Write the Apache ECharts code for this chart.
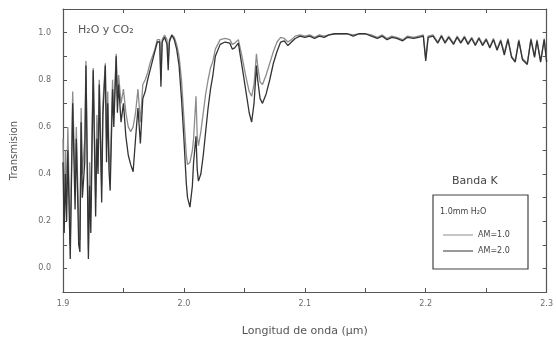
<!DOCTYPE html>
<html>
<head>
<meta charset="utf-8">
<script src="https://cdn.jsdelivr.net/npm/echarts@6/dist/echarts.min.js"></script>
<style>
  html, body { margin: 0; padding: 0; background: #fff; }
  #chart { width: 556px; height: 343px; }
</style>
</head>
<body>
<div id="chart"></div>
<script>
// longitud de onda (um)
var wavelength = [
  1.900, 1.901, 1.902, 1.903, 1.904, 1.906, 1.908, 1.910, 1.911, 1.913,
  1.914, 1.915, 1.916, 1.918, 1.919, 1.921, 1.922, 1.923, 1.924, 1.925,
  1.927, 1.928, 1.929, 1.930, 1.932, 1.933, 1.935, 1.936, 1.937, 1.938,
  1.939, 1.941, 1.942, 1.944, 1.945, 1.946,
  1.948, 1.950, 1.952, 1.954, 1.956, 1.958, 1.960, 1.962, 1.964, 1.966,
  1.968, 1.970, 1.972, 1.974, 1.976, 1.978, 1.980, 1.981, 1.982, 1.984,
  1.986, 1.987, 1.988, 1.990, 1.992, 1.994, 1.996, 1.998, 2.000, 2.002,
  2.003, 2.005, 2.007, 2.008, 2.010, 2.011, 2.012, 2.014, 2.016, 2.018,
  2.020, 2.022, 2.024, 2.026, 2.030, 2.034, 2.038, 2.040, 2.042, 2.045,
  2.048, 2.051, 2.054, 2.056, 2.058, 2.060, 2.061, 2.063, 2.065, 2.068,
  2.071, 2.074, 2.077, 2.080, 2.083, 2.086, 2.089, 2.092, 2.096, 2.100,
  2.104, 2.108, 2.112, 2.116, 2.120, 2.125, 2.130, 2.135, 2.140, 2.145,
  2.150, 2.155, 2.160, 2.164, 2.168, 2.172, 2.176, 2.181, 2.185, 2.190,
  2.194, 2.198, 2.200, 2.202, 2.206, 2.210, 2.213, 2.216, 2.219, 2.223,
  2.226, 2.229, 2.232, 2.235, 2.238, 2.241, 2.244, 2.247, 2.250, 2.253,
  2.256, 2.259, 2.262, 2.265, 2.268, 2.271, 2.274, 2.277, 2.280, 2.284,
  2.287, 2.290, 2.292, 2.295, 2.298, 2.300
];
// AM=1.0
var am1 = [
  0.55, 0.25, 0.50, 0.30, 0.60, 0.10, 0.75, 0.35, 0.60, 0.20,
  0.12, 0.68, 0.40, 0.55, 0.88, 0.08, 0.45, 0.25, 0.60, 0.85,
  0.30, 0.65, 0.50, 0.80, 0.35, 0.70, 0.87, 0.55, 0.75, 0.50,
  0.40, 0.80, 0.65, 0.91, 0.72, 0.82,
  0.70, 0.76, 0.66, 0.60, 0.58, 0.60, 0.66, 0.76, 0.62, 0.78,
  0.80, 0.83, 0.87, 0.90, 0.93, 0.97, 0.97, 0.80, 0.97, 0.99,
  0.97, 0.88, 0.97, 0.99, 0.98, 0.95, 0.90, 0.80, 0.64, 0.48,
  0.44, 0.45, 0.50, 0.55, 0.73, 0.56, 0.52, 0.58, 0.66, 0.74,
  0.80, 0.85, 0.88, 0.93, 0.97, 0.975, 0.97, 0.95, 0.955, 0.97,
  0.90, 0.82, 0.75, 0.73, 0.78, 0.91, 0.86, 0.79, 0.78, 0.82,
  0.87, 0.92, 0.96, 0.98, 0.975, 0.96, 0.97, 0.985, 0.99, 0.985,
  0.99, 0.98, 0.99, 0.985, 0.99, 0.995, 0.995, 0.995, 0.99, 0.995,
  0.995, 0.99, 0.98, 0.99, 0.975, 0.985, 0.98, 0.97, 0.985, 0.98,
  0.985, 0.99, 0.89, 0.985, 0.99, 0.96, 0.99, 0.96, 0.985, 0.955,
  0.985, 0.96, 0.985, 0.955, 0.98, 0.95, 0.98, 0.95, 0.975, 0.94,
  0.975, 0.93, 0.97, 0.915, 0.975, 0.90, 0.88, 0.97, 0.89, 0.87,
  0.975, 0.90, 0.97, 0.88, 0.975, 0.88
];
// AM=2.0
var am2 = [
  0.45, 0.15, 0.40, 0.20, 0.50, 0.04, 0.70, 0.25, 0.55, 0.10,
  0.07, 0.62, 0.30, 0.45, 0.86, 0.04, 0.35, 0.15, 0.50, 0.84,
  0.22, 0.55, 0.40, 0.78, 0.28, 0.65, 0.86, 0.45, 0.70, 0.42,
  0.33, 0.76, 0.60, 0.90, 0.66, 0.78,
  0.62, 0.70, 0.56, 0.48, 0.44, 0.41, 0.55, 0.68, 0.53, 0.72,
  0.75, 0.80, 0.84, 0.88, 0.92, 0.96, 0.96, 0.77, 0.96, 0.98,
  0.95, 0.84, 0.96, 0.99, 0.97, 0.93, 0.86, 0.72, 0.55, 0.36,
  0.30, 0.26, 0.35, 0.45, 0.56, 0.42, 0.37, 0.40, 0.48, 0.58,
  0.68, 0.76, 0.82, 0.90, 0.95, 0.96, 0.955, 0.93, 0.935, 0.955,
  0.86, 0.76, 0.66, 0.62, 0.70, 0.86, 0.80, 0.72, 0.70, 0.74,
  0.80, 0.87, 0.92, 0.96, 0.965, 0.945, 0.96, 0.975, 0.985, 0.98,
  0.985, 0.975, 0.985, 0.98, 0.99, 0.995, 0.995, 0.995, 0.985, 0.995,
  0.995, 0.985, 0.975, 0.985, 0.97, 0.98, 0.975, 0.965, 0.98, 0.975,
  0.98, 0.985, 0.88, 0.98, 0.985, 0.955, 0.985, 0.955, 0.98, 0.95,
  0.98, 0.955, 0.98, 0.95, 0.975, 0.945, 0.975, 0.945, 0.97, 0.935,
  0.97, 0.925, 0.965, 0.905, 0.97, 0.895, 0.875, 0.965, 0.885, 0.865,
  0.97, 0.895, 0.965, 0.875, 0.97, 0.875
];
var xLabels = [1.9, 2.0, 2.1, 2.2, 2.3];
var xTicks = [1.9, 1.95, 2.0, 2.05, 2.1, 2.15, 2.2, 2.25, 2.3];
var yLabels = [0, 0.2, 0.4, 0.6, 0.8, 1.0];
var yTicks = [-0.1, 0, 0.1, 0.2, 0.3, 0.4, 0.5, 0.6, 0.7, 0.8, 0.9, 1.0, 1.1];

var font = 'DejaVu Sans';
var grey = '#6a6a6a';

function pairs(ys) {
  return wavelength.map(function (x, i) { return [x, ys[i]]; });
}

var myChart = echarts.init(document.getElementById('chart'));

// ejes con marcas hacia dentro en los cuatro lados
function xAxis(pos, withLabels) {
  return {
    type: 'value', position: pos, min: 1.9, max: 2.3,
    axisLine: { show: true, onZero: false, lineStyle: { color: '#555', width: 1.2 } },
    axisTick: { inside: true, length: 4, customValues: xTicks, lineStyle: { color: '#555' } },
    axisLabel: {
      show: withLabels, customValues: xLabels, color: grey, fontSize: 8, fontFamily: font,
      margin: 8, formatter: function (v) { return v.toFixed(1); }
    },
    splitLine: { show: false },
    name: withLabels ? 'Longitud de onda (\u00b5m)' : '',
    nameLocation: 'middle', nameGap: 34,
    nameTextStyle: { color: '#555', fontSize: 11, fontFamily: font }
  };
}
function yAxis(pos, withLabels) {
  return {
    type: 'value', position: pos, min: -0.1, max: 1.1,
    axisLine: { show: true, onZero: false, lineStyle: { color: '#555', width: 1.2 } },
    axisTick: { inside: true, length: 4, customValues: yTicks, lineStyle: { color: '#555' } },
    axisLabel: {
      show: withLabels, customValues: yLabels, color: grey, fontSize: 8, fontFamily: font,
      margin: 12, formatter: function (v) { return v.toFixed(1); }
    },
    splitLine: { show: false },
    name: withLabels ? 'Transmision' : '',
    nameLocation: 'middle', nameGap: 44, nameRotate: 90,
    nameTextStyle: { color: '#555', fontSize: 10, fontFamily: font }
  };
}

var option = {
  backgroundColor: '#fff',
  animation: false,
  grid: { left: 63, right: 8, top: 9, bottom: 51 },
  xAxis: [xAxis('bottom', true), xAxis('top', false)],
  yAxis: [yAxis('left', true), yAxis('right', false)],
  legend: {
    left: 438, top: 226, orient: 'vertical', itemGap: 8,
    icon: 'rect', itemWidth: 30, itemHeight: 1,
    textStyle: { color: '#444', fontSize: 8, fontFamily: font },
    data: ['AM=1.0', 'AM=2.0']
  },
  graphic: [
    { type: 'text', left: 78, top: 25, style: { text: 'H\u2082O y CO\u2082', fill: '#555', font: '11px ' + font } },
    { type: 'text', left: 452, top: 176, style: { text: 'Banda K', fill: '#444', font: '11px ' + font } },
    { type: 'rect', shape: { x: 433, y: 195, width: 95, height: 74 }, style: { fill: 'none', stroke: '#444', lineWidth: 1.2 } },
    { type: 'text', left: 440, top: 208, style: { text: '1.0mm H\u2082O', fill: '#444', font: '8px ' + font } }
  ],
  series: [
    {
      name: 'AM=1.0', type: 'line', data: pairs(am1), showSymbol: false,
      lineStyle: { color: '#8c8c8c', width: 1.3 }, itemStyle: { color: '#8c8c8c' }
    },
    {
      name: 'AM=2.0', type: 'line', data: pairs(am2), showSymbol: false,
      lineStyle: { color: '#333', width: 1.3 }, itemStyle: { color: '#333' }
    }
  ]
};
myChart.setOption(option);
</script>
</body>
</html>
